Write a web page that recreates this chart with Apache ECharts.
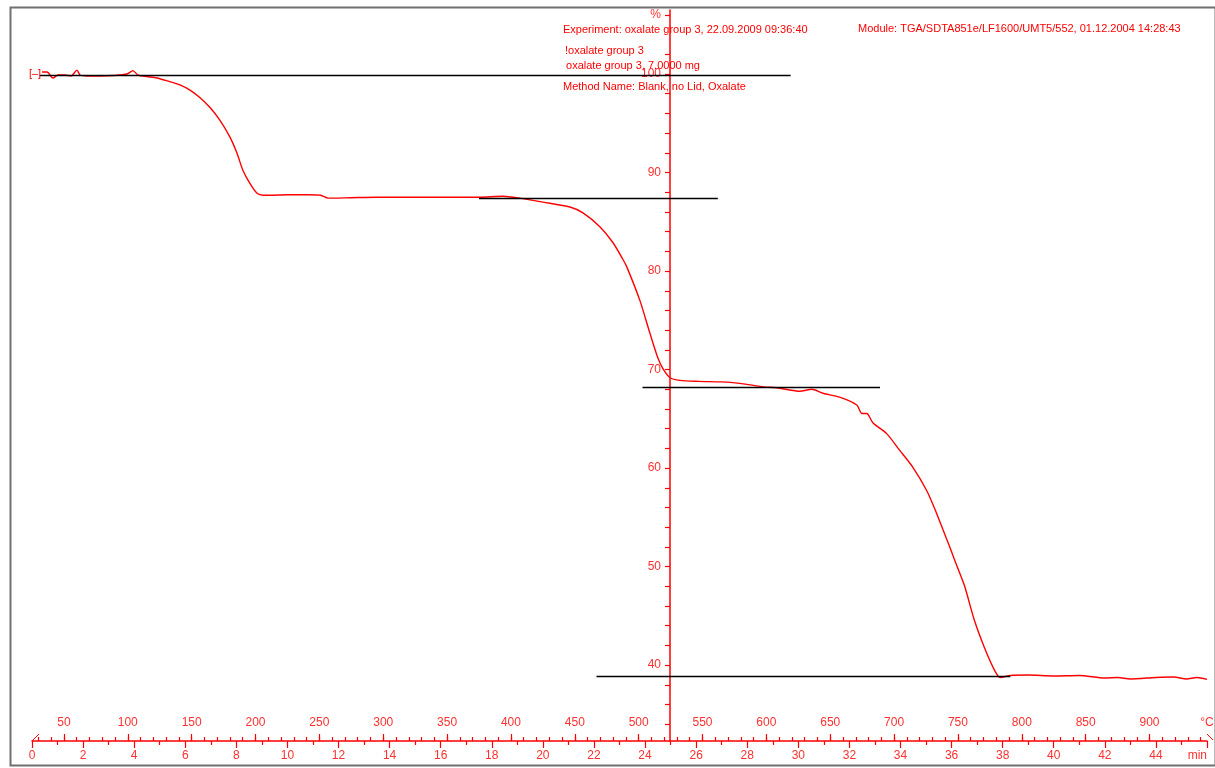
<!DOCTYPE html>
<html>
<head>
<meta charset="utf-8">
<script src="https://cdn.jsdelivr.net/npm/echarts@6/dist/echarts.min.js"></script>
<style>
html, body { margin: 0; padding: 0; background: #fff; }
#main { width: 1215px; height: 768px; }
</style>
</head>
<body>
<div id="main"></div>
<script>
// TGA curve: time in minutes, mass in %
var timeMin = [0.39, 0.59, 0.82, 1.02, 1.29, 1.53, 1.76, 1.88, 2.15, 2.66, 3.2, 3.72, 3.95, 4.15, 4.5, 4.89, 5.3, 5.79, 6.2, 6.58,
	6.97, 7.36, 7.75, 8.02, 8.26, 8.53, 8.81, 9.05, 9.31, 10.0, 10.8, 11.3, 11.6, 12.5, 13.5, 14.5, 15.5, 16.75, 17.5, 18.43,
	19.1, 20.0, 21.06, 21.57, 22.23, 22.74, 23.13, 23.29, 23.8, 24.19, 24.5, 24.7, 24.97, 25.36, 26.1, 27.0, 27.7, 28.5, 29.28, 30.06,
	30.53, 30.96, 31.62, 32.29, 32.49, 32.68, 32.92, 33.46, 33.97, 34.48, 35.03, 35.4, 35.73, 35.9, 36.1, 36.5, 36.9, 37.3, 37.7, 37.9,
	38.3, 39.0, 40.0, 41.0, 42.0, 42.5, 43.0, 44.0, 44.7, 45.2, 45.6, 46.0];
var massPct = [100.2, 100.2, 99.6, 99.9, 99.9, 99.8, 100.4, 99.9, 99.8, 99.8, 99.85, 100.0, 100.35, 99.9, 99.75, 99.6, 99.3, 98.9, 98.35, 97.6,
	96.6, 95.3, 93.6, 92.0, 90.2, 88.9, 87.9, 87.7, 87.7, 87.75, 87.75, 87.7, 87.4, 87.45, 87.5, 87.5, 87.5, 87.5, 87.5, 87.6,
	87.4, 87.0, 86.5, 85.9, 84.5, 82.9, 81.2, 80.4, 77.0, 73.7, 71.2, 70.1, 69.2, 68.9, 68.8, 68.75, 68.6, 68.3, 68.1, 67.8,
	68.0, 67.6, 67.2, 66.4, 65.55, 65.55, 64.6, 63.5, 61.8, 60.1, 57.7, 55.5, 53.3, 52.2, 50.8, 48.1, 44.5, 41.7, 39.4, 38.75,
	38.95, 39.0, 38.9, 38.95, 38.7, 38.75, 38.6, 38.75, 38.8, 38.6, 38.75, 38.55];

// step baselines: [start min, end min, level %]
var baseStart = [0.3, 17.5, 23.9, 22.1];
var baseEnd = [29.7, 26.85, 33.2, 38.3];
var baseLevel = [99.85, 87.4, 68.2, 38.9];

// axis ticks / labels
var timeMax = 46;
var tempMin = 25, tempMax = 945;
var tempMinorTicks = [];
for (var v = 30; v <= 940; v += 10) tempMinorTicks.push(v);
var tempMajorTicks = [50, 100, 150, 200, 250, 300, 350, 400, 450, 500, 550, 600, 650, 700, 750, 800, 850, 900];
var tempLabels = tempMajorTicks.concat([tempMax]);
var pctTicks = [34, 36, 38, 40, 42, 44, 46, 48, 50, 52, 54, 56, 58, 60, 62, 64, 66, 68, 70, 72, 74, 76, 78, 80,
	82, 84, 86, 88, 90, 92, 94, 96, 98, 100, 102, 106];
var pctLabels = [40, 50, 60, 70, 80, 90, 100, 106];

var headerLines = [
	'Experiment: oxalate group 3, 22.09.2009 09:36:40',
	'!oxalate group 3',
	' oxalate group 3, 7.0000 mg',
	'Method Name: Blank, no Lid, Oxalate'
];
var moduleText = 'Module: TGA/SDTA851e/LF1600/UMT5/552, 01.12.2004 14:28:43';

var RED = '#ff0000';
var LBL = '#ff3030';
var FONT = '"Liberation Sans", Arial, sans-serif';

var myChart = echarts.init(document.getElementById('main'));

var curve = [];
for (var i = 0; i < timeMin.length; i++) curve.push([timeMin[i], massPct[i]]);
var baselines = [];
for (var j = 0; j < baseLevel.length; j++) {
	baselines.push([{ coord: [baseStart[j], baseLevel[j]] }, { coord: [baseEnd[j], baseLevel[j]] }]);
}

var option = {
	animation: false,
	backgroundColor: '#fff',
	textStyle: { fontFamily: FONT },
	grid: {
		left: 32,
		right: 8,
		top: 10,
		bottom: 27,
		outerBoundsMode: 'none'
	},
	xAxis: [
		{
			type: 'value',
			min: 0,
			max: timeMax,
			interval: 2,
			position: 'bottom',
			axisLine: { show: true, onZero: false, lineStyle: { color: RED, width: 1.5 } },
			axisTick: { show: true, length: 7, lineStyle: { color: RED, width: 1.2 } },
			minorTick: { show: true, splitNumber: 2, length: 4, lineStyle: { color: RED, width: 1.2 } },
			splitLine: { show: false },
			axisLabel: {
				color: LBL,
				fontSize: 12,
				fontFamily: FONT,
				margin: 9,
				showMaxLabel: true,
				alignMaxLabel: 'right',
				formatter: function (v) { return v === timeMax ? 'min' : v; }
			}
		},
		{
			type: 'value',
			min: tempMin,
			max: tempMax,
			position: 'bottom',
			axisLine: { show: false, onZero: false },
			axisTick: { show: true, inside: true, length: 4, customValues: tempMinorTicks, lineStyle: { color: RED, width: 1.2 } },
			splitLine: { show: false },
			axisLabel: {
				inside: true,
				color: LBL,
				fontSize: 12,
				fontFamily: FONT,
				margin: 12,
				customValues: tempLabels,
				formatter: function (v) { return v === tempMax ? '\u00b0C' : v; }
			}
		},
		{
			type: 'value',
			min: tempMin,
			max: tempMax,
			position: 'bottom',
			axisLine: { show: false, onZero: false },
			axisTick: { show: true, inside: true, length: 7, customValues: tempMajorTicks, lineStyle: { color: RED, width: 1.2 } },
			splitLine: { show: false },
			axisLabel: { show: false }
		}
	],
	yAxis: {
		type: 'value',
		min: 32.3,
		max: 106.5,
		position: 'left',
		offset: -638,
		axisLine: { show: true, onZero: false, lineStyle: { color: RED, width: 1.5 } },
		axisTick: { show: true, length: 5, customValues: pctTicks, lineStyle: { color: RED, width: 1.2 } },
		splitLine: { show: false },
		axisLabel: {
			color: LBL,
			fontSize: 12,
			fontFamily: FONT,
			margin: 9,
			customValues: pctLabels,
			formatter: function (v) { return v === 106 ? '%' : v; }
		}
	},
	series: [
		{
			type: 'line',
			xAxisIndex: 0,
			yAxisIndex: 0,
			data: curve,
			smooth: 0.25,
			showSymbol: false,
			lineStyle: { color: RED, width: 1.4 },
			itemStyle: { color: RED },
			markLine: {
				silent: true,
				symbol: ['none', 'none'],
				label: { show: false },
				lineStyle: { color: '#000', width: 1.3, type: 'solid' },
				data: baselines
			},
			markPoint: {
				symbol: 'rect',
				symbolSize: 0,
				label: { show: true, position: 'inside', color: RED, fontSize: 11, fontFamily: FONT, formatter: '[\u2013]' },
				data: [{ coord: [0.12, 100] }]
			}
		}
	],
	graphic: [
		{
			type: 'rect',
			left: 8, top: 5,
			shape: { width: 1205, height: 758 },
			style: { fill: 'none', stroke: '#707070', lineWidth: 2 },
			silent: true
		},
		{
			type: 'line', silent: true,
			shape: { x1: 32, y1: 741, x2: 39, y2: 734 },
			style: { stroke: RED, lineWidth: 1 }
		},
		{
			type: 'line', silent: true,
			shape: { x1: 1207, y1: 734, x2: 1213, y2: 740 },
			style: { stroke: RED, lineWidth: 1 }
		},
		{
			type: 'text', left: 563, top: 24,
			style: { text: headerLines[0], fill: RED, font: '11px ' + FONT }
		},
		{
			type: 'text', left: 565, top: 45,
			style: { text: headerLines[1], fill: RED, font: '11px ' + FONT }
		},
		{
			type: 'text', left: 563, top: 60,
			style: { text: headerLines[2], fill: RED, font: '11px ' + FONT }
		},
		{
			type: 'text', left: 563, top: 81,
			style: { text: headerLines[3], fill: RED, font: '11px ' + FONT }
		},
		{
			type: 'text', left: 858, top: 23,
			style: { text: moduleText, fill: RED, font: '11px ' + FONT }
		}
	]
};
myChart.setOption(option);
</script>
</body>
</html>
